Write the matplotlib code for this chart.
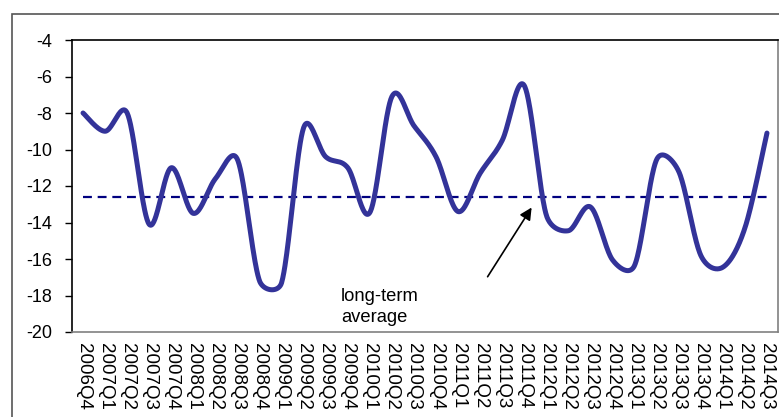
import numpy as np
import matplotlib
matplotlib.use("Agg")
import matplotlib.pyplot as plt
from matplotlib.patches import Rectangle

quarters = ["2006Q4", "2007Q1", "2007Q2", "2007Q3", "2007Q4", "2008Q1", "2008Q2", "2008Q3",
            "2008Q4", "2009Q1", "2009Q2", "2009Q3", "2009Q4", "2010Q1", "2010Q2", "2010Q3",
            "2010Q4", "2011Q1", "2011Q2", "2011Q3", "2011Q4", "2012Q1", "2012Q2", "2012Q3",
            "2012Q4", "2013Q1", "2013Q2", "2013Q3", "2013Q4", "2014Q1", "2014Q2", "2014Q3"]
values = [-8.0, -9.0, -8.0, -14.1, -11.0, -13.5, -11.6, -10.55,
          -17.2, -17.3, -8.8, -10.4, -11.0, -13.45, -7.1, -8.7,
          -10.4, -13.4, -11.3, -9.5, -6.5, -13.6, -14.45, -13.15,
          -16.05, -16.35, -10.55, -11.2, -15.8, -16.45, -14.3, -9.1]
long_term_average = -12.6
annotation_text = "long-term\naverage"

plt.rcParams['font.family'] = ['Liberation Sans', 'DejaVu Sans']

W, H = 779, 417
ax_box = (72, 40, 778, 332)   # left, top, right, bottom in pixels
xlim = (-0.5, len(quarters) - 0.5)
ylim = (-20, -4)
sx_px = (ax_box[2] - ax_box[0]) / (xlim[1] - xlim[0])
sy_px = (ax_box[3] - ax_box[1]) / (ylim[1] - ylim[0])


def excel_smooth(x, y, n=40):
    """Bezier smoothing similar to spreadsheet 'smoothed line', computed in pixel space."""
    P = np.column_stack([np.asarray(x, float) * sx_px, np.asarray(y, float) * sy_px])
    m = len(P)
    out = [P[0]]
    t = np.linspace(0, 1, n)[1:, None]
    for i in range(m - 1):
        p1, p2 = P[i], P[i + 1]
        p0 = P[i - 1] if i > 0 else p1
        p3 = P[i + 2] if i + 2 < m else p2
        d12 = np.linalg.norm(p2 - p1)
        v1 = p2 - p0
        v2 = p3 - p1
        n1, n2 = np.linalg.norm(v1), np.linalg.norm(v2)
        h1 = min(n1 / 6, d12 / 2)
        h2 = min(n2 / 6, d12 / 2)
        c1 = p1 + (v1 / n1) * h1 if n1 > 0 else p1
        c2 = p2 - (v2 / n2) * h2 if n2 > 0 else p2
        seg = ((1 - t) ** 3) * p1 + 3 * ((1 - t) ** 2) * t * c1 + 3 * (1 - t) * t ** 2 * c2 + t ** 3 * p2
        out.extend(seg)
    out = np.array(out)
    return out[:, 0] / sx_px, out[:, 1] / sy_px


fig = plt.figure(figsize=(W / 100, H / 100), dpi=100)
ax = fig.add_axes([ax_box[0] / W, 1 - ax_box[3] / H,
                   (ax_box[2] - ax_box[0]) / W, (ax_box[3] - ax_box[1]) / H])

idx = np.arange(len(quarters))
cx, cy = excel_smooth(idx, values)
ax.plot(cx, cy, color='#333399', lw=3.6, solid_capstyle='round', solid_joinstyle='round', zorder=3)
ax.plot([idx[0], idx[-1]], [long_term_average] * 2, color='#000080', lw=1.6,
        dashes=(4, 2.6), zorder=2)

ax.set_xlim(*xlim)
ax.set_ylim(*ylim)
yt = list(range(-20, -3, 2))
ax.set_yticks(yt)
ax.set_yticklabels([str(v) for v in yt], fontsize=13)
ax.set_xticks(idx)
ax.set_xticklabels(quarters, rotation=270, fontsize=13.5, va='top', ha='center')
ax.tick_params(axis='x', length=0, pad=8)
ax.tick_params(axis='y', length=5, width=1, direction='out', pad=9)

for s in ('left', 'top'):
    ax.spines[s].set_color('black'); ax.spines[s].set_linewidth(1.2)
for s in ('right', 'bottom'):
    ax.spines[s].set_color('#808080'); ax.spines[s].set_linewidth(1.2)

ax.annotate('', xy=(20.4, -13.05), xytext=(18.27, -17.1),
            arrowprops=dict(arrowstyle='-|>', color='black', lw=1.2, mutation_scale=18))
ax.text(11.7, -18.65, annotation_text, fontsize=13.2, ha='left', va='center', linespacing=1.3)

fig.patches.append(Rectangle((12 / W, -0.1), 1.0, 1 - 14 / H + 0.1, transform=fig.transFigure,
                             fill=False, edgecolor='#555555', lw=1.2))

fig.savefig('out.png', dpi=100)
